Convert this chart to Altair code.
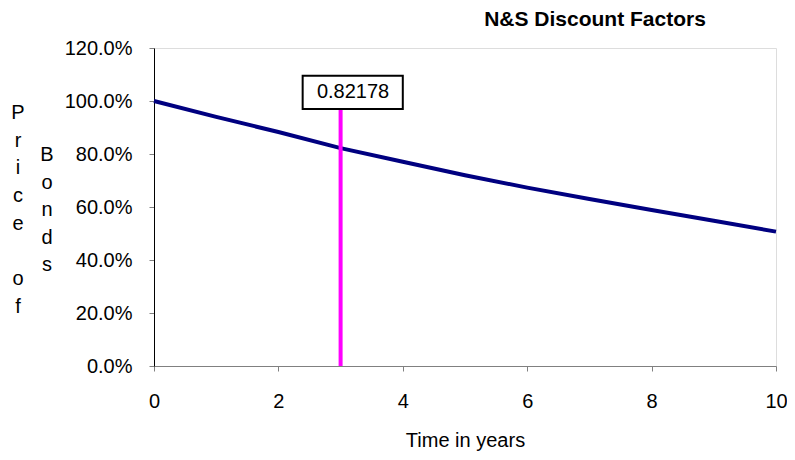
import altair as alt
import pandas as pd

years = [0, 1, 2, 3, 4, 5, 6, 7, 8, 9, 10]
price = [1.000, 0.940, 0.883, 0.822, 0.771, 0.720, 0.673, 0.630, 0.589, 0.548, 0.507]

marker_year = [3]
marker_top = [0.97]
label_text = ["0.82178"]
box_x = [2.39]
box_x2 = [4.0]
box_y = [0.97]
box_y2 = [1.095]
label_x = [3.2]
label_y = [1.033]

FONT = "Liberation Sans"

df = pd.DataFrame({"t": years, "p": price})
mk = pd.DataFrame({"t": marker_year, "p": [0.0], "y1": marker_top})
box = pd.DataFrame({"t": box_x, "x2": box_x2, "p": box_y, "y2": box_y2,
                    "lx": label_x, "ly": label_y, "txt": label_text})

xs = alt.Scale(domain=[0, 10], nice=False)
ys = alt.Scale(domain=[0, 1.2], nice=False)

xaxis = alt.Axis(
    values=[0, 2, 4, 6, 8, 10], format="d", title="Time in years", grid=False,
    domainColor="#808080", tickColor="#808080", tickSize=5, labelFlush=False,
    labelPadding=20, titlePadding=19)
yaxis = alt.Axis(
    values=[0, 0.2, 0.4, 0.6, 0.8, 1.0, 1.2], format=".1%", title=None,
    grid=False, domainColor="black", tickColor="#808080", tickSize=5,
    labelFlush=False, labelPadding=17)

line = alt.Chart(df).mark_line(color="#000080", strokeWidth=4).encode(
    x=alt.X("t:Q", scale=xs, axis=xaxis),
    y=alt.Y("p:Q", scale=ys, axis=yaxis),
)

rule = alt.Chart(mk).mark_rule(color="#FF00FF", strokeWidth=4).encode(
    x=alt.X("t:Q", scale=xs, axis=xaxis),
    y=alt.Y("p:Q", scale=ys, axis=yaxis), y2="y1:Q")

rect = alt.Chart(box).mark_rect(fill="white", stroke="black", strokeWidth=2).encode(
    x=alt.X("t:Q", scale=xs, axis=xaxis), x2="x2:Q",
    y=alt.Y("p:Q", scale=ys, axis=yaxis), y2="y2:Q")

lbl = alt.Chart(box).mark_text(font=FONT, fontSize=20, color="black",
                               baseline="middle").encode(
    x=alt.X("lx:Q", scale=xs, axis=xaxis),
    y=alt.Y("ly:Q", scale=ys, axis=yaxis), text="txt:N")

ytitle1a = alt.Chart(df.head(1)).mark_text(
    text=["P", "r", "i", "c", "e"], lineHeight=27.7,
    font=FONT, fontSize=20, color="black", baseline="middle", align="center"
).encode(x=alt.value(-136), y=alt.value(65))

ytitle1b = alt.Chart(df.head(1)).mark_text(
    text=["o", "f"], lineHeight=27.7,
    font=FONT, fontSize=20, color="black", baseline="middle", align="center"
).encode(x=alt.value(-136), y=alt.value(231))

ytitle2 = alt.Chart(df.head(1)).mark_text(
    text=["B", "o", "n", "d", "s"], lineHeight=27.5,
    font=FONT, fontSize=20, color="black", baseline="middle", align="center"
).encode(x=alt.value(-107), y=alt.value(107))

title = alt.Chart(df.head(1)).mark_text(
    text="N&S Discount Factors", font=FONT, fontSize=21, fontWeight="bold",
    color="black", baseline="middle", align="center"
).encode(x=alt.value(441), y=alt.value(-28))

chart = alt.layer(line, rule, rect, lbl, ytitle1a, ytitle1b, ytitle2, title).properties(
    width=622, height=318,
    autosize=alt.AutoSizeParams(type="none"),
    padding={"left": 146, "top": 40, "right": 11, "bottom": 86},
).configure_view(stroke=None).configure(background="white").configure_axis(
    labelFont=FONT, labelFontSize=20, labelColor="black",
    titleFont=FONT, titleFontSize=20, titleFontWeight="normal", titleColor="black",
)

chart.save("out.html", embed_options={"renderer": "svg", "actions": False})
